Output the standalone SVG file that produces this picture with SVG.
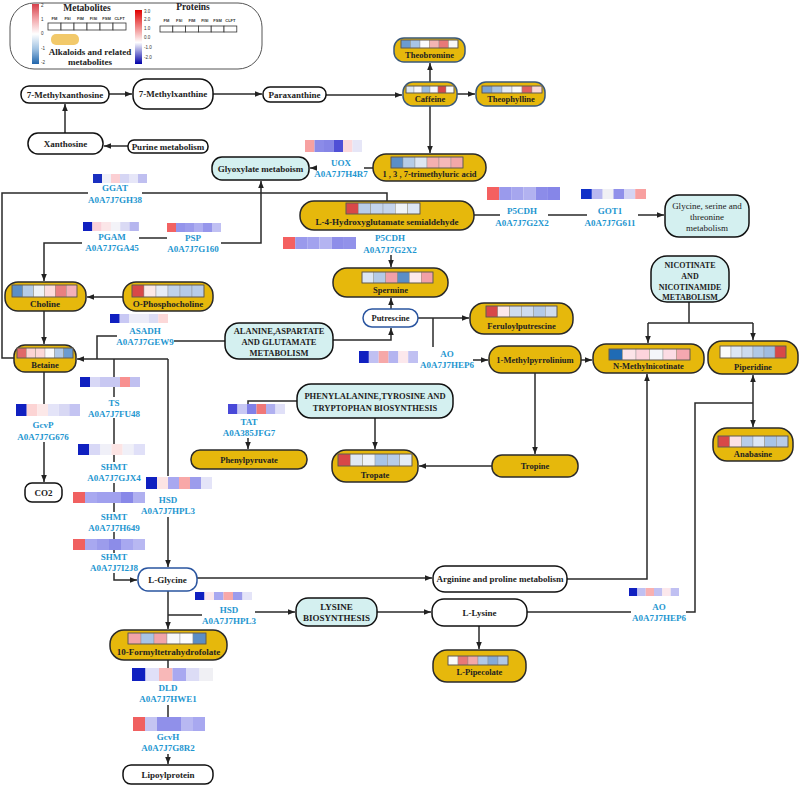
<svg xmlns="http://www.w3.org/2000/svg" width="800" height="786" viewBox="0 0 800 786">
<defs>
<marker id="ah" viewBox="0 0 10 10" refX="10" refY="5" markerWidth="7" markerHeight="7" markerUnits="userSpaceOnUse" orient="auto"><path d="M0,1 L10,5 L0,9 z" fill="#222"/></marker>
<linearGradient id="gm" x1="0" y1="0" x2="0" y2="1"><stop offset="0" stop-color="#d6404a"/><stop offset="0.25" stop-color="#f2a6aa"/><stop offset="0.5" stop-color="#ffffff"/><stop offset="0.75" stop-color="#a0c2e2"/><stop offset="1" stop-color="#2166ac"/></linearGradient>
<linearGradient id="gp" x1="0" y1="0" x2="0" y2="1"><stop offset="0" stop-color="#e00000"/><stop offset="0.6" stop-color="#ffffff"/><stop offset="1" stop-color="#0000a8"/></linearGradient>
<style>
.n{font-family:"Liberation Serif","Times New Roman",serif;font-weight:bold;font-size:9px;text-anchor:middle;fill:#222}
.s{font-size:8.5px}
.p{font-family:"Liberation Serif","Times New Roman",serif;font-weight:bold;font-size:9px;text-anchor:middle;fill:#1e96d0}
.t{font-family:"Liberation Sans",Arial,sans-serif;font-size:4.5px;fill:#333}
.g{fill:#E6B80C;stroke:#2a2a2a;stroke-width:1.5}
.gb{fill:#E6B80C;stroke:#3a5878;stroke-width:1.5}
.w{fill:#fff;stroke:#111;stroke-width:1.5}
.c{fill:#D4F0F0;stroke:#111;stroke-width:1.5}
.b{fill:#fff;stroke:#2a55a0;stroke-width:1.5}
.e{stroke:#2a2a2a;stroke-width:1.5;fill:none}
.a{marker-end:url(#ah)}
.hg rect{stroke:#8a8a8a;stroke-width:0.4}
.ho{fill:none;stroke:#5a5040;stroke-width:0.8}
</style>
</defs>

<g id="legend">
<rect x="10" y="3" width="252" height="66" rx="24" fill="#fff" stroke="#555" stroke-width="1"/>
<rect x="32" y="4" width="7" height="60" fill="url(#gm)"/>
<text class="t" x="41" y="7" font-size="3.5">2</text><text class="t" x="41" y="21">1</text><text class="t" x="41" y="35">0</text><text class="t" x="41" y="50">-1</text><text class="t" x="41" y="64">-2</text>
<text class="n" x="87" y="11" style="font-size:9.5px">Metabolites</text>
<g class="t" style="font-size:4px;font-weight:bold" text-anchor="middle"><text x="54.5" y="20">FM</text><text x="67.5" y="20">FSI</text><text x="80.5" y="20">FIM</text><text x="93.5" y="20">FISI</text><text x="106.5" y="20">FSM</text><text x="119.5" y="20">CLFT</text></g>
<g fill="#fff" stroke="#333" stroke-width="0.8"><rect x="48" y="23" width="13" height="7"/><rect x="61" y="23" width="13" height="7"/><rect x="74" y="23" width="13" height="7"/><rect x="87" y="23" width="13" height="7"/><rect x="100" y="23" width="13" height="7"/><rect x="113" y="23" width="13" height="7"/></g>
<rect x="51" y="34" width="28" height="11" rx="5" fill="#F2C96A"/>
<text class="n" x="90" y="55">Alkaloids and related</text>
<text class="n" x="90" y="65">metabolites</text>
<rect x="135" y="10" width="7" height="54" fill="url(#gp)"/>
<text class="t" x="144" y="13">3.0</text><text class="t" x="144" y="21">2.0</text><text class="t" x="144" y="30">1.0</text><text class="t" x="144" y="39">0.0</text><text class="t" x="144" y="49">-1.0</text><text class="t" x="144" y="59">-2.0</text>
<text class="n" x="193" y="10" style="font-size:9.5px">Proteins</text>
<g class="t" style="font-size:4px;font-weight:bold" text-anchor="middle"><text x="166.4" y="22">FM</text><text x="179.2" y="22">FSI</text><text x="192" y="22">FIM</text><text x="204.8" y="22">FISI</text><text x="217.6" y="22">FSM</text><text x="230.4" y="22">CLFT</text></g>
<g fill="#fff" stroke="#333" stroke-width="0.8"><rect x="160" y="26" width="12.8" height="6"/><rect x="172.8" y="26" width="12.8" height="6"/><rect x="185.6" y="26" width="12.8" height="6"/><rect x="198.4" y="26" width="12.8" height="6"/><rect x="211.2" y="26" width="12.8" height="6"/><rect x="224" y="26" width="12.8" height="6"/></g>
</g>

<g id="connectors">
<path class="e a" d="M128,146 L104,146"/>
<path class="e a" d="M65,133 L65,104"/>
<path class="e a" d="M109,94 L132,94"/>
<path class="e a" d="M213,94 L262,94"/>
<path class="e a" d="M326,95 L402,95"/>
<path class="e a" d="M430,82 L430,63"/>
<path class="e a" d="M457,94 L475,94"/>
<path class="e a" d="M430,106 L430,153"/>
<path class="e" d="M373,168 L364,168"/>
<path class="e a" d="M317,168 L310,168"/>
<path class="e" d="M14,358 L2,358 L2,193 L88,193 M142,193 L387,193 L387,201"/>
<path class="e a" d="M221,243 L261,243 L261,181"/>
<path class="e" d="M139,238 L167,238"/>
<path class="e a" d="M82,243 L44,243 L44,281"/>
<path class="e a" d="M123,297 L87,297"/>
<path class="e a" d="M44,311 L44,344"/>
<path class="e" d="M225,341 L174,341 M117,336 L97,336 L97,359"/>
<path class="e a" d="M168,359 L77,359"/>
<path class="e" d="M168,359 L168,476"/>
<path class="e a" d="M168,517 L168,567"/>
<path class="e" d="M114,359 L114,377 M114,387 L114,397 M114,418 L114,444 M114,455 L114,462 M114,483 L114,492 M114,503 L114,512 M114,532 L114,539 M114,550 L114,553"/>
<path class="e a" d="M114,573 L114,580 L137,580"/>
<path class="e" d="M44,372 L44,404"/>
<path class="e a" d="M44,442 L44,482"/>
<path class="e" d="M297,401 L248,401 L248,404"/>
<path class="e a" d="M248,438 L248,449"/>
<path class="e a" d="M375,418 L375,449"/>
<path class="e a" d="M492,466 L419,466"/>
<path class="e a" d="M535,373 L535,454"/>
<path class="e a" d="M333,340 L391,340 L391,328"/>
<path class="e a" d="M391,309 L391,298"/>
<path class="e a" d="M391,255 L391,267"/>
<path class="e a" d="M418,318 L469,318"/>
<path class="e" d="M433,318 L433,347"/>
<path class="e a" d="M473,360 L488,360"/>
<path class="e a" d="M581,360 L592,360"/>
<path class="e" d="M474,215 L500,215 M548,215 L587,215"/>
<path class="e a" d="M638,215 L664,215"/>
<path class="e" d="M689,302 L689,323 M648,323 L753,323"/>
<path class="e a" d="M648,323 L648,343"/>
<path class="e a" d="M753,323 L753,340"/>
<path class="e a" d="M567,579 L647,579 L647,374"/>
<path class="e a" d="M197,578 L432,578"/>
<path class="e a" d="M168,591 L168,629"/>
<path class="e" d="M168,615 L202,615"/>
<path class="e a" d="M255,612 L295,612"/>
<path class="e a" d="M377,612 L431,612"/>
<path class="e a" d="M479,626 L479,649"/>
<path class="e" d="M527,612 L631,612 M686,612 L695,612 L695,403 L753,403"/>
<path class="e a" d="M753,403 L753,375"/>
<path class="e a" d="M753,403 L753,427"/>
<path class="e" d="M168,660 L168,668 M168,705 L168,717"/>
<path class="e a" d="M168,754 L168,764"/>
</g>

<g id="n-7methylxanthosine"><rect class="w" x="21" y="86" width="88" height="17" rx="8"/><text class="n" x="65" y="97.5">7-Methylxanthosine</text></g>
<g id="n-7methylxanthine"><rect class="w" x="133" y="79" width="80" height="30" rx="13"/><text class="n" x="173" y="97">7-Methylxanthine</text></g>
<g id="n-paraxanthine"><rect class="w" x="263" y="87" width="63" height="15" rx="7"/><text class="n" x="294.5" y="98">Paraxanthine</text></g>
<g id="n-xanthosine"><rect class="w" x="28" y="133" width="75" height="21" rx="10"/><text class="n" x="65.5" y="146.5">Xanthosine</text></g>
<g id="n-purine"><rect class="w" x="128" y="140" width="80" height="13" rx="6"/><text class="n" x="168" y="149.5">Purine metabolism</text></g>

<g id="n-theobromine"><rect class="gb" x="394" y="38" width="71" height="24" rx="10"/>
<g class="hg"><rect x="401" y="40" width="9.5" height="8" fill="#6b9bd0"/><rect x="410.5" y="40" width="9.5" height="8" fill="#a8c4e6"/><rect x="420" y="40" width="9.5" height="8" fill="#fbfbfd"/><rect x="429.5" y="40" width="9.5" height="8" fill="#f4b4b4"/><rect x="439" y="40" width="9.5" height="8" fill="#e87878"/><rect x="448.5" y="40" width="9.5" height="8" fill="#f8f8f8"/></g><rect class="ho" x="401" y="40" width="57" height="8"/>
<text class="n s" x="429.5" y="58">Theobromine</text></g>
<g id="n-caffeine"><rect class="gb" x="403" y="82" width="54" height="24" rx="10"/>
<g class="hg"><rect x="406" y="86" width="8" height="7" fill="#dde8f4"/><rect x="414" y="86" width="8" height="7" fill="#f8f8fc"/><rect x="422" y="86" width="8" height="7" fill="#9bbbe0"/><rect x="430" y="86" width="8" height="7" fill="#f8f8ff"/><rect x="438" y="86" width="8" height="7" fill="#d84848"/><rect x="446" y="86" width="8" height="7" fill="#fafafa"/></g><rect class="ho" x="406" y="86" width="48" height="7"/>
<text class="n s" x="430" y="102">Caffeine</text></g>
<g id="n-theophylline"><rect class="gb" x="476" y="82" width="69" height="24" rx="10"/>
<g class="hg"><rect x="482" y="86" width="10" height="7" fill="#7aa2d4"/><rect x="492" y="86" width="10" height="7" fill="#a9c4e4"/><rect x="502" y="86" width="10" height="7" fill="#e8eef8"/><rect x="512" y="86" width="10" height="7" fill="#fbfbfb"/><rect x="522" y="86" width="10" height="7" fill="#e06060"/><rect x="532" y="86" width="10" height="7" fill="#fad8d8"/></g><rect class="ho" x="482" y="86" width="60" height="7"/>
<text class="n s" x="511" y="102">Theophylline</text></g>
<g id="n-trimethyluric"><rect class="g" x="373" y="154" width="113" height="27" rx="13"/>
<g class="hg"><rect x="391" y="157" width="12" height="11" fill="#5b8ec6"/><rect x="403" y="157" width="12" height="11" fill="#b5cce6"/><rect x="415" y="157" width="12" height="11" fill="#dde6f2"/><rect x="427" y="157" width="12" height="11" fill="#f4b0b0"/><rect x="439" y="157" width="12" height="11" fill="#f6b8b8"/><rect x="451" y="157" width="12" height="11" fill="#f2a8a8"/></g><rect class="ho" x="391" y="157" width="72" height="11"/>
<text class="n s" x="429.5" y="177">1 , 3 , 7-trimethyluric acid</text></g>

<g id="n-glyoxylate"><rect class="c" x="212" y="157" width="97" height="23" rx="10"/><text class="n" x="260.5" y="171.5">Glyoxylate metaboism</text></g>

<g id="p-uox"><rect x="305" y="140" width="9.5" height="12" fill="#f7a1a1"/><rect x="314.5" y="140" width="9.5" height="12" fill="#8b8be8"/><rect x="324" y="140" width="9.5" height="12" fill="#8585e6"/><rect x="333.5" y="140" width="9.5" height="12" fill="#4f4fd6"/><rect x="343" y="140" width="9.5" height="12" fill="#fcd9dc"/><rect x="352.5" y="140" width="9.5" height="12" fill="#e6e6f7"/>
<text class="p" x="341" y="166">UOX</text><text class="p" x="341" y="177">A0A7J7H4R7</text></g>

<g id="p-ggat"><rect x="93" y="174" width="9" height="9" fill="#1a2fc0"/><rect x="102" y="174" width="9" height="9" fill="#f0f0f8"/><rect x="111" y="174" width="9" height="9" fill="#fbcfd3"/><rect x="120" y="174" width="9" height="9" fill="#d6d6f4"/><rect x="129" y="174" width="9" height="9" fill="#e6e6f8"/><rect x="138" y="174" width="9" height="9" fill="#bfbff0"/>
<text class="p" x="115" y="191">GGAT</text><text class="p" x="115" y="203">A0A7J7GH38</text></g>

<g id="p-pgam"><rect x="83" y="222" width="9.4" height="9" fill="#1020c0"/><rect x="92.3" y="222" width="9.4" height="9" fill="#fbd0d8"/><rect x="101.6" y="222" width="9.4" height="9" fill="#fbe6e8"/><rect x="110.9" y="222" width="9.4" height="9" fill="#f3f3f8"/><rect x="120.2" y="222" width="9.4" height="9" fill="#dadaf4"/><rect x="129.5" y="222" width="9.4" height="9" fill="#b6b6ef"/>
<text class="p" x="112" y="240">PGAM</text><text class="p" x="112" y="251">A0A7J7GA45</text></g>

<g id="p-psp"><rect x="167" y="223" width="9" height="9" fill="#f26262"/><rect x="176" y="223" width="9" height="9" fill="#9494eb"/><rect x="185" y="223" width="9" height="9" fill="#9c9cec"/><rect x="194" y="223" width="9" height="9" fill="#aeaef0"/><rect x="203" y="223" width="9" height="9" fill="#9696eb"/><rect x="212" y="223" width="9" height="9" fill="#c0c0f3"/>
<text class="p" x="193" y="241">PSP</text><text class="p" x="193" y="252">A0A7J7G160</text></g>

<g id="n-l4hydroxy"><rect class="g" x="300" y="201" width="174" height="29" rx="14"/>
<g class="hg"><rect x="346" y="203" width="12.4" height="11" fill="#d84848"/><rect x="358.3" y="203" width="12.4" height="11" fill="#b8cce8"/><rect x="370.7" y="203" width="12.4" height="11" fill="#c4d4ec"/><rect x="383" y="203" width="12.4" height="11" fill="#c4d4ec"/><rect x="395.3" y="203" width="12.4" height="11" fill="#f0f4f8"/><rect x="407.7" y="203" width="12.3" height="11" fill="#dce6f4"/></g><rect class="ho" x="346" y="203" width="74" height="11"/>
<text class="n" x="387" y="225">L-4-Hydroxyglutamate semialdehyde</text></g>

<g id="p-p5cdh-1"><rect x="487" y="187" width="12.2" height="13" fill="#f46060"/><rect x="499.2" y="187" width="12.2" height="13" fill="#9a9aec"/><rect x="511.3" y="187" width="12.2" height="13" fill="#a6a6ee"/><rect x="523.5" y="187" width="12.2" height="13" fill="#b2b2f0"/><rect x="535.7" y="187" width="12.2" height="13" fill="#8c8ce9"/><rect x="547.8" y="187" width="12.2" height="13" fill="#8686e8"/>
<text class="p" x="522" y="214">P5CDH</text><text class="p" x="522" y="226">A0A7J7G2X2</text></g>

<g id="p-got1"><rect x="581" y="189" width="10.9" height="10" fill="#1030c8"/><rect x="591.8" y="189" width="10.9" height="10" fill="#b8b8f0"/><rect x="602.7" y="189" width="10.9" height="10" fill="#f0f0f4"/><rect x="613.5" y="189" width="10.9" height="10" fill="#9090ea"/><rect x="624.3" y="189" width="10.9" height="10" fill="#d4d4f4"/><rect x="635.2" y="189" width="10.8" height="10" fill="#f8a0a0"/>
<text class="p" x="610" y="214">GOT1</text><text class="p" x="610" y="226">A0A7J7G611</text></g>

<g id="n-glycine-serine"><rect class="c" x="665" y="195" width="84" height="42" rx="14"/><text class="n" x="707" y="209" style="font-weight:normal">Glycine, serine and</text><text class="n" x="707" y="220" style="font-weight:normal">threonine</text><text class="n" x="707" y="231" style="font-weight:normal">metabolism</text></g>

<g id="p-p5cdh-2"><rect x="283" y="237" width="12.2" height="12" fill="#f46060"/><rect x="295.2" y="237" width="12.2" height="12" fill="#9a9aec"/><rect x="307.3" y="237" width="12.2" height="12" fill="#a2a2ee"/><rect x="319.5" y="237" width="12.2" height="12" fill="#b4b4f1"/><rect x="331.7" y="237" width="12.2" height="12" fill="#8e8ee9"/><rect x="343.8" y="237" width="12.2" height="12" fill="#9292ea"/>
<text class="p" x="390" y="241">P5CDH</text><text class="p" x="390" y="253">A0A7J7G2X2</text></g>

<g id="n-spermine"><rect class="g" x="333" y="268" width="115" height="29" rx="14"/>
<g class="hg"><rect x="362" y="272" width="11.9" height="11" fill="#dce6f4"/><rect x="373.8" y="272" width="11.9" height="11" fill="#b4cae6"/><rect x="385.7" y="272" width="11.9" height="11" fill="#f2a0a8"/><rect x="397.5" y="272" width="11.9" height="11" fill="#5b8ec6"/><rect x="409.3" y="272" width="11.9" height="11" fill="#fce8ec"/><rect x="421.2" y="272" width="11.8" height="11" fill="#f2a0a8"/></g><rect class="ho" x="362" y="272" width="71" height="11"/>
<text class="n s" x="390.5" y="293">Spermine</text></g>

<g id="n-nicotinate"><rect class="c" x="651" y="256" width="78" height="46" rx="16"/><text class="n" x="690" y="268" style="font-size:8px">NICOTINATE</text><text class="n" x="690" y="279" style="font-size:8px">AND</text><text class="n" x="690" y="290" style="font-size:8px">NICOTINAMIDE</text><text class="n" x="690" y="300" style="font-size:8px">METABOLISM</text></g>

<g id="n-choline"><rect class="g" x="5" y="282" width="81" height="29" rx="13"/>
<g class="hg"><rect x="12" y="285" width="10.9" height="12" fill="#5b8ec6"/><rect x="22.8" y="285" width="10.9" height="12" fill="#b5cce6"/><rect x="33.7" y="285" width="10.9" height="12" fill="#eef2f6"/><rect x="44.5" y="285" width="10.9" height="12" fill="#fcdcdc"/><rect x="55.3" y="285" width="10.9" height="12" fill="#e88080"/><rect x="66.2" y="285" width="10.8" height="12" fill="#f4b0b8"/></g><rect class="ho" x="12" y="285" width="65" height="12"/>
<text class="n" x="45" y="307">Choline</text></g>

<g id="n-ophosphocholine"><rect class="g" x="123" y="282" width="90" height="29" rx="13"/>
<g class="hg"><rect x="132" y="285" width="12" height="12" fill="#d84848"/><rect x="144" y="285" width="12" height="12" fill="#fce8e8"/><rect x="156" y="285" width="12" height="12" fill="#e6ecf6"/><rect x="168" y="285" width="12" height="12" fill="#c0d2ea"/><rect x="180" y="285" width="12" height="12" fill="#b6cae6"/><rect x="192" y="285" width="12" height="12" fill="#b8cce8"/></g><rect class="ho" x="132" y="285" width="72" height="12"/>
<text class="n" x="168" y="307">O-Phosphocholine</text></g>

<g id="n-putrescine"><rect class="b" x="363" y="309" width="55" height="18" rx="9"/><text class="n s" x="390.5" y="321">Putrescine</text></g>

<g id="n-feruloylputrescine"><rect class="g" x="470" y="303" width="103" height="31" rx="14"/>
<g class="hg"><rect x="486" y="306" width="11.9" height="11" fill="#d84848"/><rect x="497.8" y="306" width="11.9" height="11" fill="#fce8ec"/><rect x="509.7" y="306" width="11.9" height="11" fill="#cfdcee"/><rect x="521.5" y="306" width="11.9" height="11" fill="#cfdcee"/><rect x="533.3" y="306" width="11.9" height="11" fill="#b4cae6"/><rect x="545.2" y="306" width="11.8" height="11" fill="#cfdcee"/></g><rect class="ho" x="486" y="306" width="71" height="11"/>
<text class="n s" x="521.5" y="329">Feruloylputrescine</text></g>

<g id="p-asadh"><rect x="110" y="314" width="9.7" height="9" fill="#1020c0"/><rect x="119.7" y="314" width="9.7" height="9" fill="#c8c8f4"/><rect x="129.3" y="314" width="9.7" height="9" fill="#ececf8"/><rect x="139" y="314" width="9.7" height="9" fill="#ececf8"/><rect x="148.7" y="314" width="9.7" height="9" fill="#dcdcf4"/><rect x="158.3" y="314" width="9.7" height="9" fill="#fcd8d8"/>
<text class="p" x="145" y="334">ASADH</text><text class="p" x="145" y="345">A0A7J7GEW9</text></g>

<g id="n-alanine"><rect class="c" x="225" y="323" width="108" height="36" rx="14"/><text class="n s" x="279" y="334">ALANINE,ASPARTATE</text><text class="n s" x="279" y="345">AND GLUTAMATE</text><text class="n s" x="279" y="356">METABOLISM</text></g>

<g id="p-ao-1"><rect x="359" y="351" width="9.9" height="12" fill="#1020c0"/><rect x="368.8" y="351" width="9.9" height="12" fill="#c0c0f2"/><rect x="378.7" y="351" width="9.9" height="12" fill="#f6a8a8"/><rect x="388.5" y="351" width="9.9" height="12" fill="#b4b4f0"/><rect x="398.3" y="351" width="9.9" height="12" fill="#fce8ec"/><rect x="408.2" y="351" width="9.8" height="12" fill="#c0c0f2"/>
<text class="p" x="447" y="357">AO</text><text class="p" x="447" y="368">A0A7J7HEP6</text></g>

<g id="n-betaine"><rect class="g" x="14" y="345" width="62" height="27" rx="11"/>
<g class="hg"><rect x="17" y="348" width="9.4" height="10" fill="#e06868"/><rect x="26.3" y="348" width="9.4" height="10" fill="#fcd4d4"/><rect x="35.7" y="348" width="9.4" height="10" fill="#fcd8d8"/><rect x="45" y="348" width="9.4" height="10" fill="#fafafa"/><rect x="54.3" y="348" width="9.4" height="10" fill="#b0c8e6"/><rect x="63.7" y="348" width="9.3" height="10" fill="#6b9bd0"/></g><rect class="ho" x="17" y="348" width="56" height="10"/>
<text class="n s" x="45" y="368">Betaine</text></g>

<g id="n-1methylpyrrolinium"><rect class="g" x="489" y="346" width="92" height="27" rx="12"/><text class="n s" x="535" y="363">1-Methylpyrrolinium</text></g>

<g id="n-nmethylnicotinate"><rect class="g" x="593" y="344" width="111" height="29" rx="13"/>
<g class="hg"><rect x="609" y="349" width="13.5" height="11" fill="#1f6bb5"/><rect x="622.5" y="349" width="13.5" height="11" fill="#fce4e8"/><rect x="636" y="349" width="13.5" height="11" fill="#fcd4dc"/><rect x="649.5" y="349" width="13.5" height="11" fill="#f4f6fa"/><rect x="663" y="349" width="13.5" height="11" fill="#fcdce4"/><rect x="676.5" y="349" width="13.5" height="11" fill="#f4a8b0"/></g><rect class="ho" x="609" y="349" width="81" height="11"/>
<text class="n s" x="648.5" y="369">N-Methylnicotinate</text></g>

<g id="n-piperidine"><rect class="g" x="708" y="341" width="90" height="33" rx="14"/>
<g class="hg"><rect x="720" y="346" width="11" height="12" fill="#fafafa"/><rect x="731" y="346" width="11" height="12" fill="#dce6f4"/><rect x="742" y="346" width="11" height="12" fill="#ccdaee"/><rect x="753" y="346" width="11" height="12" fill="#b0c8e6"/><rect x="764" y="346" width="11" height="12" fill="#a0bce0"/><rect x="775" y="346" width="11" height="12" fill="#d84848"/></g><rect class="ho" x="720" y="346" width="66" height="12"/>
<text class="n s" x="753" y="370">Piperidine</text></g>

<g id="p-ts"><rect x="80" y="377" width="10" height="10" fill="#1020c0"/><rect x="90" y="377" width="10" height="10" fill="#d8d8f6"/><rect x="100" y="377" width="10" height="10" fill="#c8c8f2"/><rect x="110" y="377" width="10" height="10" fill="#c8c8f2"/><rect x="120" y="377" width="10" height="10" fill="#f89090"/><rect x="130" y="377" width="10" height="10" fill="#c0c0f0"/>
<text class="p" x="114" y="406">TS</text><text class="p" x="114" y="417">A0A7J7FU48</text></g>

<g id="n-phenylalanine"><rect class="c" x="297" y="384" width="156" height="34" rx="14"/><text class="n s" x="375" y="399">PHENYLALANINE,TYROSINE AND</text><text class="n s" x="375" y="411">TRYPTOPHAN BIOSYNTHESIS</text></g>

<g id="p-gcvp"><rect x="16" y="404" width="10.7" height="12" fill="#1020c0"/><rect x="26.7" y="404" width="10.7" height="12" fill="#fcd4d4"/><rect x="37.3" y="404" width="10.7" height="12" fill="#fce8e8"/><rect x="48" y="404" width="10.7" height="12" fill="#e4e4f8"/><rect x="58.7" y="404" width="10.7" height="12" fill="#d8d8f4"/><rect x="69.3" y="404" width="10.7" height="12" fill="#c4c4f2"/>
<text class="p" x="43" y="428">GcvP</text><text class="p" x="43" y="440">A0A7J7G676</text></g>

<g id="p-tat"><rect x="228" y="404" width="9.5" height="10" fill="#4848d8"/><rect x="237.5" y="404" width="9.5" height="10" fill="#c8c8f4"/><rect x="247" y="404" width="9.5" height="10" fill="#8080e8"/><rect x="256.5" y="404" width="9.5" height="10" fill="#f07878"/><rect x="266" y="404" width="9.5" height="10" fill="#b0b0f0"/><rect x="275.5" y="404" width="9.5" height="10" fill="#e0e0f8"/>
<text class="p" x="249" y="425">TAT</text><text class="p" x="249" y="436">A0A385JFG7</text></g>

<g id="n-anabasine"><rect class="g" x="713" y="428" width="80" height="33" rx="14"/>
<g class="hg"><rect x="718" y="436" width="11.7" height="11" fill="#d84848"/><rect x="729.7" y="436" width="11.7" height="11" fill="#fce0e4"/><rect x="741.3" y="436" width="11.7" height="11" fill="#b8cce8"/><rect x="753" y="436" width="11.7" height="11" fill="#dce6f4"/><rect x="764.7" y="436" width="11.7" height="11" fill="#a8c4e6"/><rect x="776.3" y="436" width="11.7" height="11" fill="#b8cce8"/></g><rect class="ho" x="718" y="436" width="70" height="11"/>
<text class="n s" x="753" y="457">Anabasine</text></g>

<g id="p-shmt-1"><rect x="78" y="444" width="11.2" height="11" fill="#1020c0"/><rect x="89.2" y="444" width="11.2" height="11" fill="#d8d8f6"/><rect x="100.3" y="444" width="11.2" height="11" fill="#f0f0f8"/><rect x="111.5" y="444" width="11.2" height="11" fill="#fce4e4"/><rect x="122.7" y="444" width="11.2" height="11" fill="#f0f0f8"/><rect x="133.8" y="444" width="11.2" height="11" fill="#e0e0f8"/>
<text class="p" x="114" y="470">SHMT</text><text class="p" x="114" y="481">A0A7J7GJX4</text></g>

<g id="n-phenylpyruvate"><rect class="g" x="191" y="450" width="116" height="19" rx="9"/><text class="n s" x="249" y="463">Phenylpyruvate</text></g>

<g id="n-tropate"><rect class="g" x="332" y="450" width="86" height="32" rx="14"/>
<g class="hg"><rect x="338" y="454" width="12.4" height="12" fill="#d84848"/><rect x="350.3" y="454" width="12.4" height="12" fill="#e0e8f4"/><rect x="362.7" y="454" width="12.4" height="12" fill="#eef2f8"/><rect x="375" y="454" width="12.4" height="12" fill="#a8c4e6"/><rect x="387.3" y="454" width="12.4" height="12" fill="#b8cce8"/><rect x="399.7" y="454" width="12.3" height="12" fill="#e4ecf6"/></g><rect class="ho" x="338" y="454" width="74" height="12"/>
<text class="n s" x="375" y="478">Tropate</text></g>

<g id="n-tropine"><rect class="g" x="492" y="455" width="86" height="22" rx="10"/><text class="n s" x="535" y="469">Tropine</text></g>

<g id="p-hsd-1"><rect x="146" y="477" width="11" height="12" fill="#1020c0"/><rect x="157" y="477" width="11" height="12" fill="#fce4e4"/><rect x="168" y="477" width="11" height="12" fill="#a8a8f0"/><rect x="179" y="477" width="11" height="12" fill="#f8a8a8"/><rect x="190" y="477" width="11" height="12" fill="#9c9cec"/><rect x="201" y="477" width="11" height="12" fill="#e4e4f8"/>
<text class="p" x="168" y="503">HSD</text><text class="p" x="168" y="514">A0A7J7HPL3</text></g>

<g id="n-co2"><rect class="w" x="25" y="483" width="37" height="19" rx="7"/><text class="n" x="43.5" y="496">CO2</text></g>

<g id="p-shmt-2"><rect x="73" y="492" width="12" height="11" fill="#f06060"/><rect x="85" y="492" width="12" height="11" fill="#a8a8f0"/><rect x="97" y="492" width="12" height="11" fill="#a0a0ee"/><rect x="109" y="492" width="12" height="11" fill="#a0a0ee"/><rect x="121" y="492" width="12" height="11" fill="#8888e8"/><rect x="133" y="492" width="12" height="11" fill="#b0b0f0"/>
<text class="p" x="114" y="520">SHMT</text><text class="p" x="114" y="531">A0A7J7H649</text></g>

<g id="p-shmt-3"><rect x="73" y="539" width="12" height="11" fill="#f06060"/><rect x="85" y="539" width="12" height="11" fill="#a8a8f0"/><rect x="97" y="539" width="12" height="11" fill="#9c9cec"/><rect x="109" y="539" width="12" height="11" fill="#8c8ce8"/><rect x="121" y="539" width="12" height="11" fill="#a8a8f0"/><rect x="133" y="539" width="12" height="11" fill="#b8b8f2"/>
<text class="p" x="114" y="560">SHMT</text><text class="p" x="114" y="571">A0A7J7I2J8</text></g>

<g id="n-lglycine"><rect class="b" x="138" y="568" width="59" height="23" rx="10"/><text class="n" x="167.5" y="583">L-Glycine</text></g>
<g id="n-arginine"><rect class="w" x="433" y="566" width="134" height="26" rx="12"/><text class="n" x="500" y="582">Arginine and proline metabolism</text></g>

<g id="p-ao-2"><rect x="629" y="588" width="8.4" height="8" fill="#1020c0"/><rect x="637.3" y="588" width="8.4" height="8" fill="#c0c0f2"/><rect x="645.7" y="588" width="8.4" height="8" fill="#f8b0b0"/><rect x="654" y="588" width="8.4" height="8" fill="#c0c0f2"/><rect x="662.3" y="588" width="8.4" height="8" fill="#fce8ec"/><rect x="670.7" y="588" width="8.3" height="8" fill="#c0c0f2"/>
<text class="p" x="659" y="610">AO</text><text class="p" x="659" y="621">A0A7J7HEP6</text></g>

<g id="p-hsd-2"><rect x="195" y="592" width="9.5" height="8" fill="#1020c0"/><rect x="204.5" y="592" width="9.5" height="8" fill="#fce8ec"/><rect x="214" y="592" width="9.5" height="8" fill="#a8a8f0"/><rect x="223.5" y="592" width="9.5" height="8" fill="#f8a8a8"/><rect x="233" y="592" width="9.5" height="8" fill="#9c9cec"/><rect x="242.5" y="592" width="9.5" height="8" fill="#e4e4f8"/>
<text class="p" x="229" y="613">HSD</text><text class="p" x="229" y="624">A0A7J7HPL3</text></g>

<g id="n-lysine-bio"><rect class="c" x="296" y="598" width="81" height="28" rx="12"/><text class="n" x="336.5" y="610">LYSINE</text><text class="n" x="336.5" y="621">BIOSYNTHESIS</text></g>
<g id="n-llysine"><rect class="w" x="432" y="599" width="95" height="27" rx="12"/><text class="n" x="479.5" y="616">L-Lysine</text></g>

<g id="n-10formyl"><rect class="g" x="110" y="630" width="117" height="30" rx="14"/>
<g class="hg"><rect x="128" y="633" width="13" height="11" fill="#f2a4a8"/><rect x="141" y="633" width="13" height="11" fill="#a8c4e6"/><rect x="154" y="633" width="13" height="11" fill="#f2a4a8"/><rect x="167" y="633" width="13" height="11" fill="#f8f8f8"/><rect x="180" y="633" width="13" height="11" fill="#fcfcfc"/><rect x="193" y="633" width="13" height="11" fill="#5b8ec6"/></g><rect class="ho" x="128" y="633" width="78" height="11"/>
<text class="n" x="168.5" y="655">10-Formyltetrahydrofolate</text></g>

<g id="n-lpipecolate"><rect class="g" x="433" y="650" width="93" height="32" rx="14"/>
<g class="hg"><rect x="448" y="656" width="10" height="9" fill="#fafafa"/><rect x="458" y="656" width="10" height="9" fill="#e87878"/><rect x="468" y="656" width="10" height="9" fill="#f4a8a8"/><rect x="478" y="656" width="10" height="9" fill="#b0c8e8"/><rect x="488" y="656" width="10" height="9" fill="#84aad8"/><rect x="498" y="656" width="10" height="9" fill="#b0c8e8"/></g><rect class="ho" x="448" y="656" width="60" height="9"/>
<text class="n s" x="479.5" y="675">L-Pipecolate</text></g>

<g id="p-dld"><rect x="132" y="668" width="13.5" height="13" fill="#1020c0"/><rect x="145.5" y="668" width="13.5" height="13" fill="#e0e0f8"/><rect x="159" y="668" width="13.5" height="13" fill="#f8b8b8"/><rect x="172.5" y="668" width="13.5" height="13" fill="#a8a8f0"/><rect x="186" y="668" width="13.5" height="13" fill="#dcdcf6"/><rect x="199.5" y="668" width="13.5" height="13" fill="#f0f0f4"/>
<text class="p" x="168" y="691">DLD</text><text class="p" x="168" y="702">A0A7J7HWE1</text></g>

<g id="p-gcvh"><rect x="133" y="717" width="12" height="14" fill="#f06060"/><rect x="145" y="717" width="12" height="14" fill="#c4c4f2"/><rect x="157" y="717" width="12" height="14" fill="#9090ea"/><rect x="169" y="717" width="12" height="14" fill="#9090ea"/><rect x="181" y="717" width="12" height="14" fill="#b8b8f2"/><rect x="193" y="717" width="12" height="14" fill="#a8a8f0"/>
<text class="p" x="168" y="740">GcvH</text><text class="p" x="168" y="751">A0A7J7G8R2</text></g>

<g id="n-lipoylprotein"><rect class="w" x="123" y="765" width="90" height="19" rx="8"/><text class="n" x="168" y="778">Lipoylprotein</text></g>
</svg>
